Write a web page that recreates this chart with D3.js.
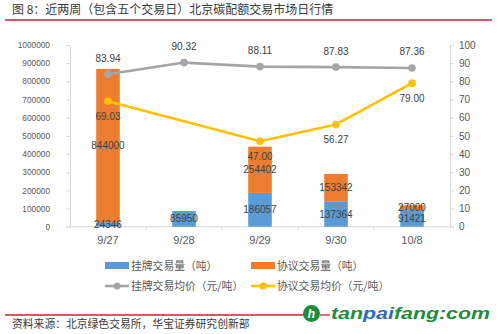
<!DOCTYPE html>
<html>
<head>
<meta charset="utf-8">
<script src="https://cdn.jsdelivr.net/npm/d3@7"></script>
<style>
  html, body { margin: 0; padding: 0; background: #fff; }
  svg { display: block; }
</style>
</head>
<body>
<svg id="chart" width="500" height="334"></svg>
<script>
// Trading dates
const categories = ["9/27", "9/28", "9/29", "9/30", "10/8"];
// Volumes (tonnes)
const listedVolume = [24346, 85950, 186057, 137364, 91421];
const agreementVolume = [844000, 0, 254402, 153342, 27000];
// Average prices (yuan / tonne); null = no agreement trade that day
const listedPrice = [83.94, 90.32, 88.11, 87.83, 87.36];
const agreementPrice = [69.03, null, 47.00, 56.27, 79.00];
// Axis ticks
const leftTicks = [0, 100000, 200000, 300000, 400000, 500000, 600000, 700000, 800000, 900000, 1000000];
const rightTicks = [0, 10, 20, 30, 40, 50, 60, 70, 80, 90, 100];

const titleText = "图 8：近两周（包含五个交易日）北京碳配额交易市场日行情";
const sourceText = "资料来源：北京绿色交易所，华宝证券研究创新部";
const legendNames = ["挂牌交易量（吨）", "协议交易量（吨）", "挂牌交易均价（元/吨）", "协议交易均价（元/吨）"];

const colors = { blue: "#5B9BD5", orange: "#ED7D31", gray: "#A5A5A5", yellow: "#FFC000" };
const cjk = "'Noto Sans CJK SC', 'Noto Sans', sans-serif";
const num = "'Liberation Sans', Arial, sans-serif";

const svg = d3.select("#chart");

// Header
svg.append("text").attr("x", 12).attr("y", 14)
  .attr("font-family", cjk).attr("font-size", 12).attr("fill", "#3a3a3a")
  .text(titleText);
svg.append("line").attr("x1", 5).attr("x2", 492).attr("y1", 20).attr("y2", 20)
  .attr("stroke", "#C0272D").attr("stroke-width", 1.5);

const plot = { left: 70, right: 450, top: 45, bottom: 226.7 };

const x = d3.scaleBand().domain(categories).range([plot.left, plot.right]).paddingInner(0.69).paddingOuter(0.345);
const band = d3.scaleBand().domain(categories).range([plot.left, plot.right]);
const yL = d3.scaleLinear().domain([0, 1000000]).range([plot.bottom, plot.top]);
const yR = d3.scaleLinear().domain([0, 100]).range([plot.bottom, plot.top]);
const cx = d => band(d) + band.bandwidth() / 2;

// Axes
const axisColor = "#D9D9D9";
const leftAxis = svg.append("g").attr("transform", `translate(${plot.left},0)`)
  .call(d3.axisLeft(yL).tickValues(leftTicks).tickSize(4).tickPadding(16).tickFormat(d3.format("d")));
const rightAxis = svg.append("g").attr("transform", `translate(${plot.right},0)`)
  .call(d3.axisRight(yR).tickValues(rightTicks).tickSize(4).tickPadding(5));
[leftAxis, rightAxis].forEach(g => {
  g.select(".domain").attr("stroke", axisColor);
  g.selectAll(".tick line").attr("stroke", axisColor);
  g.selectAll(".tick text").attr("fill", "#595959").attr("font-family", num);
});
leftAxis.selectAll(".tick text").attr("font-size", 8.3);
rightAxis.selectAll(".tick text").attr("font-size", 10);

// Category axis with ticks between bands
const xAxis = svg.append("g").attr("transform", `translate(0,${plot.bottom})`);
xAxis.append("line").attr("x1", plot.left).attr("x2", plot.right).attr("stroke", axisColor);
xAxis.selectAll("line.sep").data(categories.slice(1)).join("line").attr("class", "sep")
  .attr("x1", d => band(d)).attr("x2", d => band(d)).attr("y1", 0).attr("y2", 4).attr("stroke", axisColor);
xAxis.selectAll("text").data(categories).join("text")
  .attr("x", cx).attr("y", 17).attr("text-anchor", "middle")
  .attr("font-family", num).attr("font-size", 11).attr("fill", "#595959").text(d => d);

// Stacked bars
const rows = categories.map((c, i) => ({ c, listed: listedVolume[i], agreement: agreementVolume[i] }));
const stack = d3.stack().keys(["listed", "agreement"])(rows);
const barColors = [colors.blue, colors.orange];
stack.forEach((layer, k) => {
  svg.append("g").selectAll("rect").data(layer).join("rect")
    .attr("x", d => x(d.data.c)).attr("width", x.bandwidth())
    .attr("y", d => yL(d[1])).attr("height", d => yL(d[0]) - yL(d[1]))
    .attr("fill", barColors[k]);
});
// Bar value labels, centred in each segment
stack.forEach(layer => {
  svg.append("g").selectAll("text").data(layer.filter(d => d[1] - d[0] > 0)).join("text")
    .attr("x", d => cx(d.data.c)).attr("y", d => (yL(d[0]) + yL(d[1])) / 2 + 3.6)
    .attr("text-anchor", "middle").attr("font-family", num).attr("font-size", 10).attr("fill", "#404040")
    .text(d => d[1] - d[0]);
});

// Price lines
function drawLine(values, color, dy) {
  const pts = categories.map((c, i) => ({ c, v: values[i] })).filter(d => d.v !== null);
  const line = d3.line().x(d => cx(d.c)).y(d => yR(d.v));
  svg.append("path").datum(pts).attr("d", line).attr("fill", "none")
    .attr("stroke", color).attr("stroke-width", 2.6).attr("stroke-linejoin", "round");
  svg.append("g").selectAll("circle").data(pts).join("circle")
    .attr("cx", d => cx(d.c)).attr("cy", d => yR(d.v)).attr("r", 3.8).attr("fill", color);
  svg.append("g").selectAll("text").data(pts).join("text")
    .attr("x", d => cx(d.c)).attr("y", d => yR(d.v) + dy)
    .attr("text-anchor", "middle").attr("font-family", num).attr("font-size", 10).attr("fill", "#404040")
    .text(d => d.v.toFixed(2));
}
drawLine(listedPrice, colors.gray, -12.5);
drawLine(agreementPrice, colors.yellow, 18.5);

// Legend
const legend = [
  { name: legendNames[0], color: colors.blue, type: "bar", x: 105, y: 265.5 },
  { name: legendNames[1], color: colors.orange, type: "bar", x: 251, y: 265.5 },
  { name: legendNames[2], color: colors.gray, type: "line", x: 105, y: 286 },
  { name: legendNames[3], color: colors.yellow, type: "line", x: 251, y: 286 }
];
const lg = svg.append("g").selectAll("g").data(legend).join("g")
  .attr("transform", d => `translate(${d.x},${d.y})`);
lg.filter(d => d.type === "bar").append("rect")
  .attr("x", 0).attr("y", -3.5).attr("width", 24).attr("height", 7).attr("fill", d => d.color);
lg.filter(d => d.type === "line").append("line")
  .attr("x1", 0).attr("x2", 24).attr("stroke", d => d.color).attr("stroke-width", 2.6);
lg.filter(d => d.type === "line").append("circle")
  .attr("cx", 12).attr("r", 3.5).attr("fill", d => d.color);
lg.append("text").attr("x", 26).attr("y", 4)
  .attr("font-family", cjk).attr("font-size", 10.8).attr("fill", "#595959").text(d => d.name);

// Footer
svg.append("line").attr("x1", 5).attr("x2", 304).attr("y1", 315).attr("y2", 315)
  .attr("stroke", "#C0272D").attr("stroke-width", 1.3);
svg.append("text").attr("x", 12).attr("y", 328)
  .attr("font-family", cjk).attr("font-size", 10.8).attr("fill", "#3a3a3a").text(sourceText);

// Site mark
const green = "#1E8C3A";
svg.append("circle").attr("cx", 311.5).attr("cy", 313.5).attr("r", 8.5).attr("fill", green);
svg.append("text").attr("x", 311.5).attr("y", 318).attr("text-anchor", "middle")
  .attr("font-family", num).attr("font-weight", "bold").attr("font-style", "italic")
  .attr("font-size", 12).attr("fill", "#fff").text("h");
svg.append("line").attr("x1", 320).attr("x2", 330).attr("y1", 315).attr("y2", 315)
  .attr("stroke", "#C0272D").attr("stroke-width", 1.3);
const mark = svg.append("text").attr("x", 331).attr("y", 319)
  .attr("font-family", num).attr("font-weight", "bold").attr("font-style", "italic")
  .attr("font-size", 17).attr("textLength", 159).attr("lengthAdjust", "spacingAndGlyphs");
mark.append("tspan").attr("fill", green).text("tan");
mark.append("tspan").attr("fill", "#2A6BB8").text("pai");
mark.append("tspan").attr("fill", green).text("fang:com");
</script>
</body>
</html>
